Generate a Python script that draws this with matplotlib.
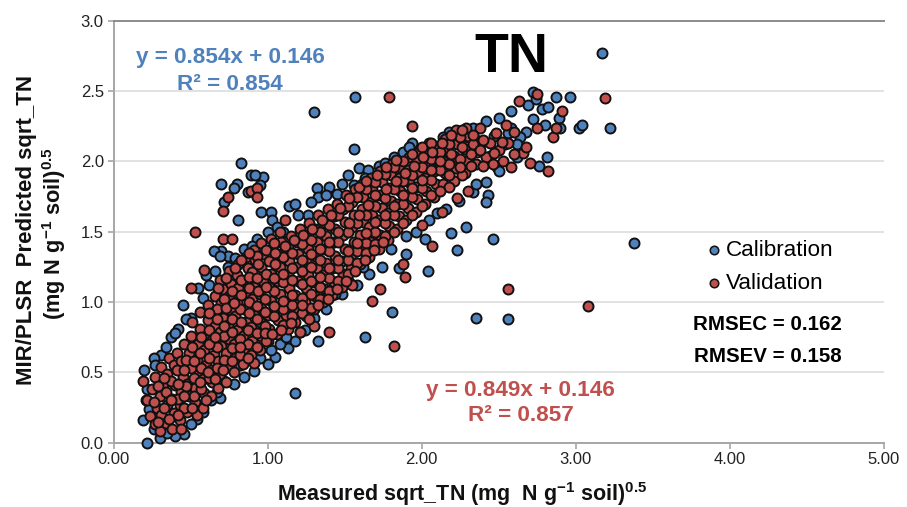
import numpy as np
import matplotlib
matplotlib.use('Agg')
import matplotlib.pyplot as plt

plt.rcParams['font.family'] = ['Liberation Sans', 'DejaVu Sans']
plt.rcParams['mathtext.fontset'] = 'custom'
plt.rcParams['mathtext.rm'] = 'Liberation Sans:bold'
plt.rcParams['mathtext.default'] = 'rm'

# points (measured, predicted)
# calibration: top right tail and scattered points above the band
cal_top = [(3.17,2.77),(3.22,2.24),(2.96,2.46),(2.87,2.46),(2.72,2.49),(3.02,2.24),(3.04,2.26),(1.57,2.46),(1.30,2.35),
           (1.56,2.09),(1.94,2.13),(2.58,2.36),(2.50,2.31),(2.42,2.29),(2.33,2.24),(2.18,2.21),(2.14,2.17),(2.69,2.40),
           (2.78,2.37),(2.82,2.39),(2.89,2.31),(2.90,2.24),(2.80,2.26),(2.68,2.21),(2.64,2.17),(2.54,2.12),(2.47,2.18),
           (2.38,2.12),(2.58,2.24),(2.72,2.30),(2.44,2.04),(2.56,2.20),(2.30,2.17),(2.74,2.44),(2.22,2.16),(2.62,2.12)]
cal_left = [(0.83,1.99),(0.70,1.84),(0.80,1.84),(0.78,1.81),(0.89,1.90),(0.97,1.89),(0.95,1.83),(0.87,1.78),(0.72,1.71),
            (0.81,1.58),(0.96,1.64),(1.02,1.64),(1.03,1.58),(1.14,1.68),(1.18,1.70),(1.32,1.81),(1.40,1.82),(1.52,1.90),
            (1.59,1.95),(1.65,1.94),(1.82,2.03),(1.99,2.06),(2.12,2.09),(0.92,1.90),(1.33,1.75),(1.45,1.77),(1.56,1.83),
            (1.26,1.62),(1.10,1.50),(1.06,1.53),(0.93,1.45),(0.85,1.38),(0.70,1.36),(0.74,1.33),(0.65,1.36),(0.69,1.33),
            (0.74,1.25),(0.60,1.19),(0.55,1.10),(0.45,0.98),(0.42,0.81),(0.37,0.75),(0.31,0.62),(0.26,0.60),(0.20,0.52),
            (0.50,0.89),(0.62,1.12),(1.72,1.97),(1.88,2.07),(0.66,1.22),(0.79,1.31),(0.90,1.40),(1.00,1.50),(1.20,1.62),
            (1.28,1.71),(1.38,1.76),(1.48,1.84),(1.63,1.88),(1.76,1.99),(1.92,2.10),(2.05,2.13),(0.34,0.68),(0.40,0.78),
            (0.27,0.55),(0.47,0.88),(0.58,1.03)]
cal_right = [(2.81,2.03),(2.76,1.97),(2.62,2.03),(2.49,1.96),(2.42,1.85),(2.33,1.78),(2.43,1.76),(2.42,1.71),(2.29,1.53),
             (2.19,1.49),(2.46,1.45),(2.23,1.37),(3.38,1.42),(2.35,0.89),(2.56,0.88),(1.81,0.93),(1.63,0.75),(1.33,0.72),
             (1.18,0.35),(2.04,1.22),(1.90,1.34),(1.85,1.24),(1.53,1.14),(1.48,1.06),(1.44,1.06),(1.13,0.67),(1.05,0.61),
             (1.00,0.56),(0.91,0.51),(0.69,0.32),(0.54,0.17),(0.46,0.06),(0.40,0.05),(0.30,0.03),(0.22,0.00),(0.19,0.16),
             (0.23,0.24),(0.21,0.30),(0.22,0.38),(0.26,0.10),(0.35,0.07),(0.50,0.13),(0.58,0.22),(0.63,0.30),(0.78,0.42),
             (0.85,0.47),(0.95,0.60),(1.08,0.70),(1.18,0.72),(1.24,0.80),(1.38,0.95),(1.58,1.12),(1.66,1.20),(1.74,1.25),
             (1.96,1.50),(2.05,1.58),(2.16,1.66),(2.24,1.72),(2.02,1.45),(0.67,0.36),(0.72,0.44),(0.82,0.55),(1.02,0.66),
             (1.12,0.75),(1.30,0.89),(1.45,1.10),(1.62,1.25),(1.80,1.38),(1.90,1.47),(2.10,1.63),(2.35,1.84),(2.50,1.93)]

# validation: the dense band, split in stretches along x
val_low = [(0.19,0.44),(0.22,0.30),(0.24,0.19),(0.25,0.38),(0.27,0.13),(0.28,0.25),(0.27,0.47),(0.30,0.08),(0.31,0.20),
           (0.30,0.33),(0.32,0.42),(0.31,0.54),(0.34,0.14),(0.35,0.27),(0.34,0.36),(0.35,0.49),(0.36,0.60),(0.38,0.10),
           (0.39,0.21),(0.38,0.31),(0.40,0.41),(0.39,0.55),(0.41,0.64),(0.43,0.16),(0.44,0.10),(0.43,0.27),(0.44,0.36),
           (0.45,0.47),(0.44,0.58),(0.46,0.70),(0.48,0.22),(0.49,0.33),(0.48,0.42),(0.50,0.53),(0.49,0.64),(0.50,0.76),
           (0.51,0.86),(0.53,0.29),(0.54,0.20),(0.53,0.39),(0.55,0.48),(0.54,0.59),(0.55,0.70),(0.56,0.81),(0.56,0.93),
           (0.58,0.25),(0.59,0.35),(0.58,0.45),(0.60,0.55),(0.59,0.66),(0.60,0.76),(0.61,0.87),(0.61,0.98),(0.50,1.10),
           (0.53,1.50),(0.59,1.23),(0.63,0.33),(0.64,0.43),(0.63,0.52),(0.65,0.62),(0.64,0.73),(0.66,0.83),(0.65,0.93),
           (0.66,1.04),(0.68,0.39),(0.69,0.49),(0.68,0.58),(0.70,0.69),(0.69,0.79),(0.71,0.89),(0.70,0.99),(0.71,1.09),
           (0.69,1.16),(0.73,0.43),(0.74,0.54),(0.73,0.64),(0.75,0.74),(0.74,0.84),(0.76,0.94),(0.75,1.04),(0.76,1.13),
           (0.75,1.22),(0.78,0.50),(0.79,0.60),(0.78,0.70),(0.80,0.80),(0.79,0.90),(0.80,1.00),(0.81,1.10),(0.80,1.19),
           (0.81,1.27),(0.71,1.45),(0.77,1.45),(0.71,1.65),(0.74,1.75)]
val_mid = [(0.84,0.56),(0.85,0.66),(0.84,0.76),(0.86,0.86),(0.85,0.95),(0.86,1.05),(0.85,1.15),(0.87,1.24),(0.86,1.32),
           (0.89,0.62),(0.90,0.72),(0.89,0.82),(0.91,0.92),(0.90,1.02),(0.91,1.11),(0.90,1.21),(0.92,1.30),(0.91,1.37),
           (0.91,0.57),(0.95,0.66),(0.96,0.76),(0.95,0.86),(0.96,0.96),(0.95,1.06),(0.97,1.15),(0.96,1.25),(0.97,1.34),
           (0.96,1.42),(1.00,0.72),(1.01,0.81),(1.00,0.91),(1.02,1.01),(1.01,1.11),(1.02,1.20),(1.01,1.29),(1.03,1.38),
           (1.02,1.45),(1.06,0.77),(1.07,0.87),(1.06,0.96),(1.08,1.06),(1.07,1.15),(1.08,1.25),(1.07,1.34),(1.09,1.43),
           (1.08,1.50),(1.13,0.81),(1.12,0.91),(1.13,1.01),(1.14,1.10),(1.13,1.20),(1.14,1.29),(1.13,1.39),(1.15,1.47),
           (1.11,1.58),(1.18,0.86),(1.19,0.96),(1.18,1.05),(1.20,1.15),(1.19,1.25),(1.20,1.34),(1.19,1.43),(1.21,1.52),
           (1.21,0.79),(1.25,0.90),(1.24,1.00),(1.25,1.10),(1.26,1.19),(1.25,1.29),(1.26,1.38),(1.25,1.48),(1.27,1.56),
           (1.30,0.83),(1.30,0.95),(1.31,1.04),(1.30,1.14),(1.32,1.24),(1.31,1.33),(1.32,1.43),(1.31,1.52),(1.33,1.62),
           (1.36,1.00),(1.37,1.09),(1.36,1.19),(1.38,1.28),(1.37,1.38),(1.38,1.47),(1.37,1.56),(1.39,1.66),(1.40,0.79),
           (1.42,1.05),(1.43,1.14),(1.42,1.24),(1.44,1.33),(1.43,1.43),(1.44,1.52),(1.43,1.61),(1.45,1.70),(1.48,1.11),
           (1.49,1.20),(1.48,1.29),(1.50,1.38),(1.49,1.48),(1.50,1.57),(1.49,1.66),(1.51,1.76)]
val_high = [(1.55,1.12),(1.54,1.24),(1.55,1.34),(1.56,1.43),(1.55,1.53),(1.56,1.62),(1.55,1.71),(1.57,1.80),(1.60,1.27),
            (1.61,1.38),(1.60,1.48),(1.62,1.57),(1.61,1.66),(1.62,1.75),(1.61,1.84),(1.66,1.32),(1.67,1.43),(1.66,1.53),
            (1.68,1.62),(1.67,1.71),(1.68,1.80),(1.67,1.88),(1.72,1.38),(1.73,1.48),(1.72,1.58),(1.74,1.67),(1.73,1.76),
            (1.74,1.85),(1.73,1.93),(1.78,1.44),(1.79,1.54),(1.78,1.63),(1.80,1.72),(1.79,1.81),(1.80,1.90),(1.81,1.98),
            (1.84,1.52),(1.85,1.61),(1.84,1.70),(1.86,1.79),(1.85,1.88),(1.86,1.96),(1.90,1.58),(1.91,1.67),(1.90,1.76),
            (1.92,1.85),(1.91,1.94),(1.92,2.03),(1.96,1.64),(1.97,1.73),(1.96,1.82),(1.98,1.91),(1.97,2.00),(1.98,2.07),
            (2.02,1.70),(2.03,1.79),(2.02,1.88),(2.04,1.97),(2.03,2.05),(2.08,1.75),(2.09,1.84),(2.08,1.93),(2.10,2.01),
            (2.09,2.10),(2.14,1.84),(2.15,1.92),(2.14,2.00),(2.16,2.08),(2.15,2.16),(2.21,1.86),(2.22,1.95),(2.21,2.04),
            (2.23,2.12),(2.22,2.22),(2.28,1.92),(2.29,2.00),(2.28,2.09),(2.30,2.18),(2.29,2.24),(2.35,1.98),(2.36,2.07),
            (2.35,2.15),(2.38,2.24),(2.42,2.03),(2.44,2.13),(2.46,1.98),(2.50,2.08),(2.53,2.00),(2.56,2.13),(2.58,1.96),
            (2.60,2.21),(2.63,2.43),(2.66,2.06),(2.70,1.99),(2.75,2.24),(2.75,2.48),(2.82,1.93),(2.85,2.17),(2.87,2.24),
            (2.91,2.36),(3.19,2.45),(1.94,2.25),(1.79,2.46),(0.89,1.79),(0.93,1.81),(0.93,1.75),(2.30,1.79),(2.23,1.74),
            (2.13,1.64),(2.07,1.40),(2.00,1.55),(1.68,1.01),(1.73,1.09),(1.82,0.69),(1.89,1.18),(1.88,1.27),(2.56,1.09),
            (3.08,0.97),(1.21,0.79)]
# more layers, these sit in the gaps of the first ones
val_gaps = [(0.26,0.29),(0.29,0.40),(0.33,0.25),(0.37,0.44),(0.36,0.17),(0.42,0.31),(0.41,0.52),(0.46,0.25),(0.47,0.59),
            (0.47,0.40),(0.52,0.46),(0.51,0.68),(0.52,0.33),(0.57,0.53),(0.57,0.75),(0.57,0.38),(0.62,0.60),(0.62,0.80),
            (0.62,0.46),(0.67,0.68),(0.67,0.95),(0.67,0.53),(0.72,0.76),(0.72,1.02),(0.72,0.59),(0.77,0.67),(0.77,0.88),
            (0.77,1.08),(0.82,0.74),(0.82,0.95),(0.83,1.16),(0.82,0.62),(0.87,0.80),(0.88,1.00),(0.88,1.18),(0.87,0.70),
            (0.93,0.78),(0.93,0.97),(0.93,1.17),(0.93,1.33),(0.98,0.83),(0.98,1.02),(0.99,1.20),(0.99,0.72),(1.04,0.90),
            (1.04,1.08),(1.05,1.27),(1.04,1.42),(1.10,0.95),(1.10,1.14),(1.10,1.32),(1.10,0.84),(1.16,0.98),(1.16,1.16),
            (1.16,1.35),(1.16,0.90),(1.22,1.03),(1.22,1.22),(1.22,1.41),(1.22,0.92),(1.28,1.06),(1.28,1.25),(1.28,1.44),
            (1.28,0.96),(1.34,1.11),(1.34,1.30),(1.34,1.50),(1.34,1.02),(1.40,1.17),(1.40,1.36),(1.40,1.55),(1.40,1.08),
            (1.46,1.24),(1.46,1.43),(1.46,1.62),(1.46,1.15),(1.52,1.30),(1.52,1.50),(1.52,1.68),(1.52,1.20),(1.58,1.36),
            (1.58,1.56),(1.58,1.75),(1.58,1.28),(1.64,1.42),(1.64,1.62),(1.64,1.80),(1.64,1.35),(1.70,1.50),(1.70,1.68),
            (1.70,1.85),(1.70,1.41),(1.76,1.56),(1.76,1.74),(1.76,1.91),(1.76,1.47),(1.82,1.62),(1.82,1.80),(1.82,1.96),
            (1.88,1.70),(1.88,1.86),(1.88,2.00),(1.94,1.75),(1.94,1.90),(1.94,2.05),(2.00,1.81),(2.00,1.96),(2.00,2.10),
            (2.06,1.87),(2.06,2.02),(2.06,2.13),(2.12,1.94),(2.12,2.07),(2.18,1.98),(2.18,2.12),(2.25,2.02),(2.25,2.17),
            (2.32,2.05),(2.33,2.12),(2.26,1.90),(2.18,1.82),(2.40,2.15),(2.48,2.20),(2.40,1.97),(2.55,2.26),(2.52,2.14)]
val_fill = [(0.29,0.15),(0.33,0.46),(0.37,0.30),(0.42,0.42),(0.42,0.20),(0.46,0.33),(0.46,0.52),(0.51,0.25),(0.52,0.58),
            (0.56,0.43),(0.56,0.64),(0.60,0.30),(0.61,0.50),(0.62,0.70),(0.62,0.92),(0.66,0.45),(0.66,0.75),(0.67,0.88),
            (0.68,1.10),(0.71,0.52),(0.72,0.83),(0.73,0.96),(0.73,1.17),(0.77,0.58),(0.77,0.79),(0.78,0.99),(0.79,1.24),
            (0.82,0.68),(0.83,0.86),(0.83,1.05),(0.83,1.30),(0.87,0.60),(0.88,0.92),(0.88,1.10),(0.88,1.35),(0.93,0.68),
            (0.93,0.88),(0.94,1.08),(0.94,1.27),(0.98,0.78),(0.98,0.93),(0.99,1.11),(0.99,1.37),(1.03,0.77),(1.04,0.97),
            (1.04,1.17),(1.05,1.35),(1.09,0.80),(1.10,1.01),(1.10,1.20),(1.11,1.40),(1.15,0.85),(1.16,1.05),(1.16,1.24),
            (1.17,1.44),(1.22,0.98),(1.22,1.13),(1.22,1.30),(1.23,1.48),(1.27,0.88),(1.28,1.15),(1.28,1.34),(1.29,1.52),
            (1.33,0.98),(1.34,1.18),(1.34,1.38),(1.35,1.58),(1.39,1.02),(1.40,1.24),(1.40,1.43),(1.41,1.62),(1.45,1.09),
            (1.46,1.30),(1.46,1.50),(1.47,1.67),(1.51,1.15),(1.52,1.36),(1.53,1.56),(1.53,1.74),(1.57,1.22),(1.58,1.42),
            (1.59,1.62),(1.59,1.82),(1.63,1.30),(1.64,1.49),(1.65,1.69),(1.64,1.86),(1.69,1.37),(1.70,1.57),(1.70,1.76),
            (1.71,1.90),(1.75,1.43),(1.76,1.62),(1.77,1.80),(1.77,1.96),(1.82,1.50),(1.82,1.68),(1.83,1.86),(1.83,2.01),
            (1.88,1.56),(1.88,1.76),(1.89,1.92),(1.94,1.62),(1.94,1.81),(1.95,1.97),(2.00,1.68),(2.00,1.87),(2.01,2.03),
            (2.06,1.76),(2.06,1.94),(2.07,2.07),(2.12,1.79),(2.12,2.00),(2.13,2.13),(2.18,1.90),(2.19,2.05),(2.19,2.19),
            (2.25,1.96),(2.26,2.10),(2.26,2.22),(2.32,1.97),(2.33,2.19),(2.38,2.08),(2.47,2.06),(2.68,2.10),(2.60,2.05)]

x_ticks = [0, 1, 2, 3, 4, 5]
x_tick_labels = ['0.00', '1.00', '2.00', '3.00', '4.00', '5.00']
y_ticks = [0, 0.5, 1.0, 1.5, 2.0, 2.5, 3.0]

cal = np.array(cal_top + cal_left + cal_right)
val = np.array(val_low + val_mid + val_high + val_gaps + val_fill)

blue = '#4F81BD'
red = '#C0504D'

fig = plt.figure(figsize=(9.07, 5.07), dpi=100)
ax = fig.add_axes([113.5 / 907, 1 - 442.7 / 507, (884 - 113.5) / 907, (442.7 - 20.7) / 507])

ax.scatter(cal[:, 0], cal[:, 1], s=52, c=blue, edgecolors='#111111', linewidths=1.4, zorder=3, clip_on=False, label='Calibration')
ax.scatter(val[:, 0], val[:, 1], s=52, c=red, edgecolors='#111111', linewidths=1.4, zorder=4, clip_on=False, label='Validation')

ax.set_xlim(0, 5)
ax.set_ylim(0, 3)
ax.set_xticks(x_ticks)
ax.set_xticklabels(x_tick_labels)
ax.set_yticks(y_ticks)
ax.set_yticklabels(['%.1f' % t for t in y_ticks])
ax.tick_params(labelsize=12, colors='#A6A6A6', labelcolor='#222222', length=4, width=1.2, pad=3)
ax.grid(True, axis='y', color='#DDDDDD', linewidth=1.2, zorder=0)
ax.set_axisbelow(True)
ax.spines['right'].set_visible(False)
for side in ['left', 'bottom']:
    ax.spines[side].set_color('#A6A6A6')
    ax.spines[side].set_linewidth(1.4)
ax.spines['top'].set_color('#8C8C8C')
ax.spines['top'].set_linewidth(1.4)

# text placed in pixels of the reference
def put(px, py, s, **kw):
    return fig.text(px / 907, 1 - py / 507, s, ha='center', va='center', **kw)

put(511, 58, 'TN', fontsize=40, fontweight='bold', color='black', zorder=6)
put(230, 57, 'y = 0.854x + 0.146', fontsize=16.2, fontweight='bold', color=blue)
put(230, 84.5, 'R² = 0.854', fontsize=16.2, fontweight='bold', color=blue)
box = dict(facecolor='white', edgecolor='none', pad=3)
ax.text((520.5 - 113.5) / 154.1, (442.7 - 403) / 140.7, 'y = 0.849x + 0.146\nR² = 0.857', fontsize=16.2, fontweight='bold',
        color=red, ha='center', va='center', linespacing=1.2, zorder=5, bbox=box)
put(767, 324, 'RMSEC = 0.162', fontsize=14.8, fontweight='bold', color='black')
put(768, 357, 'RMSEV = 0.158', fontsize=14.8, fontweight='bold', color='black')

leg = ax.legend(loc='upper left', bbox_to_anchor=((703 - 113.5) / 770.5, 1 - (240 - 20.7) / 422), frameon=False, fontsize=16.2,
                handletextpad=0.0, handlelength=1.0, labelspacing=0.55, markerscale=0.85, borderpad=0, borderaxespad=0)
for h in leg.legend_handles:
    h.set_linewidth(1.1)

put(462, 494, r'Measured sqrt_TN (mg  N g$^{-1}$ soil)$^{0.5}$', fontsize=15.5, fontweight='bold', color='#111111')
put(27, 230, 'MIR/PLSR  Predicted sqrt_TN', fontsize=16, fontweight='bold', color='#111111', rotation=90)
put(54, 234, r'(mg N g$^{-1}$ soil)$^{0.5}$', fontsize=15.7, fontweight='bold', color='#111111', rotation=90)

fig.savefig('out.png', dpi=100)
